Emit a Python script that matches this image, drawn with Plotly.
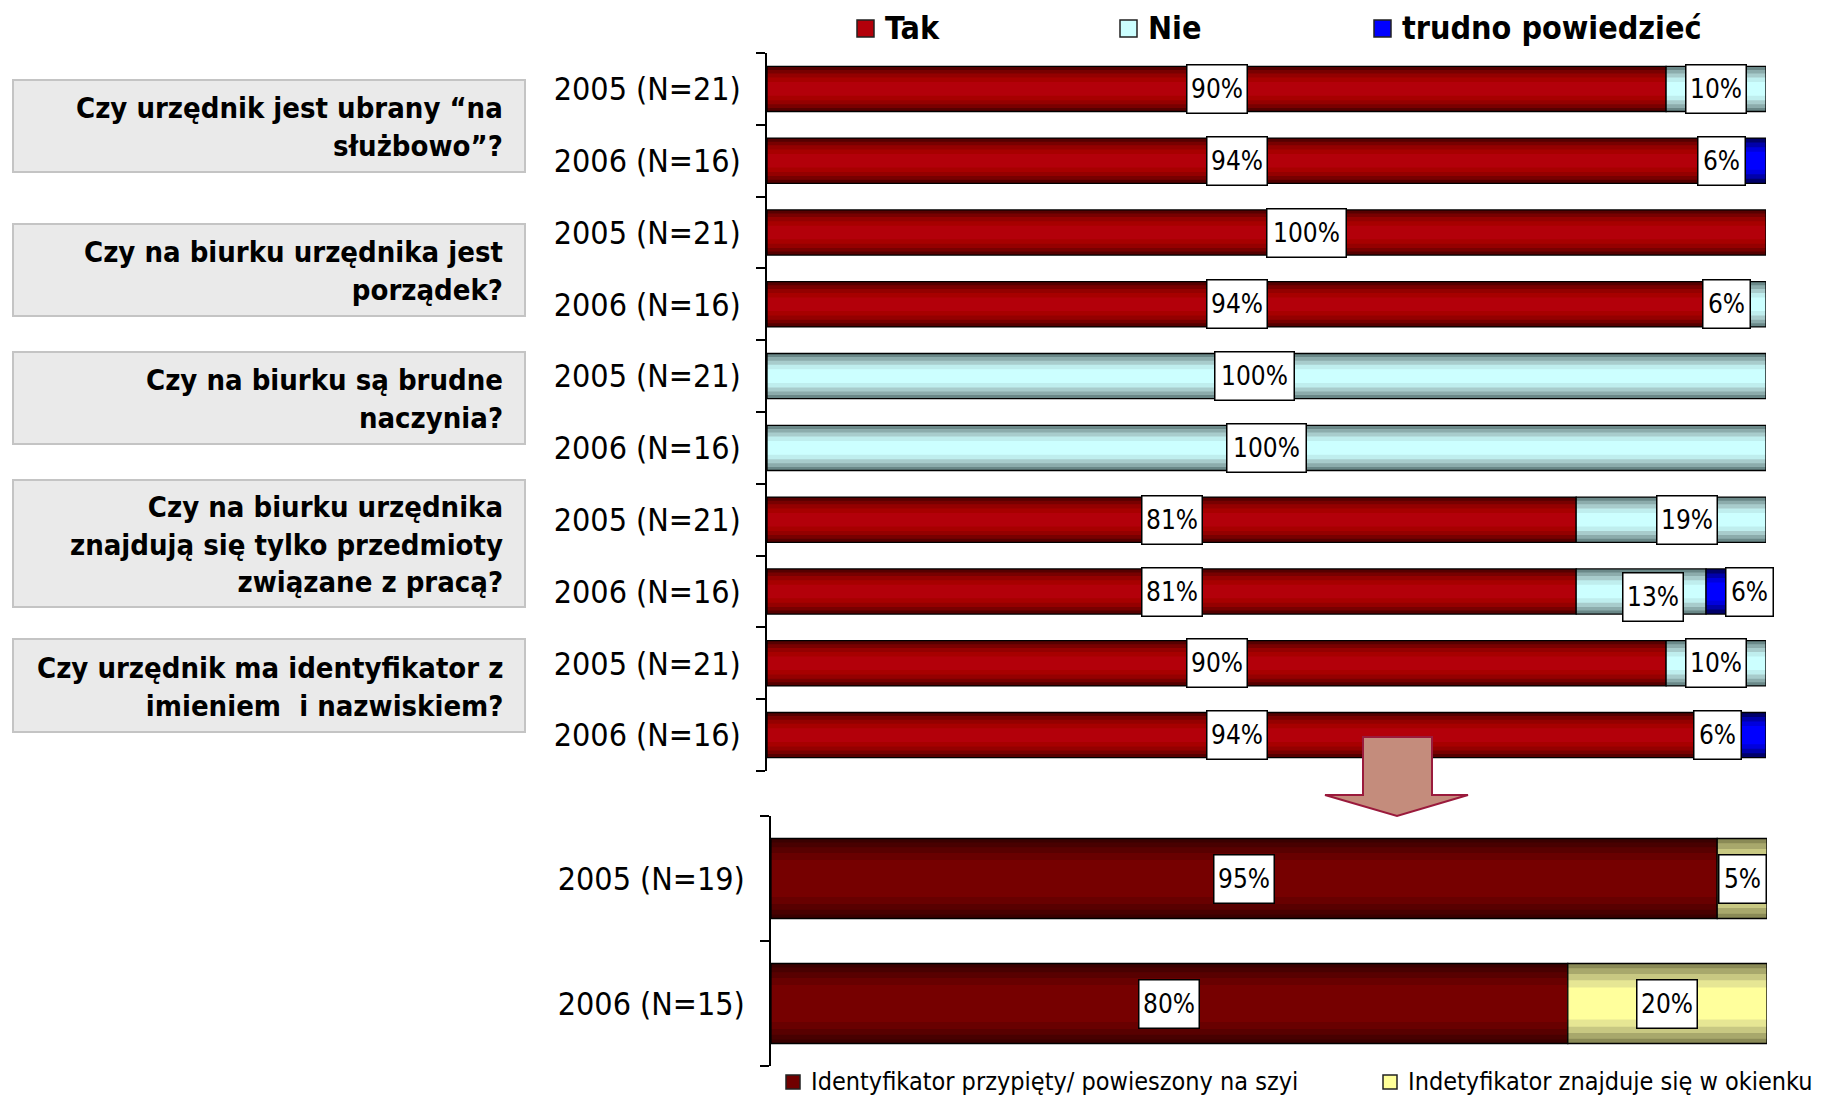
import plotly.graph_objects as go

W, H = 1823, 1095

# ---- data: appearance survey, 2005 vs 2006 ----
row_labels = ["2005 (N=21)", "2006 (N=16)", "2005 (N=21)", "2006 (N=16)", "2005 (N=21)",
              "2006 (N=16)", "2005 (N=21)", "2006 (N=16)", "2005 (N=21)", "2006 (N=16)"]
tak = [90, 94, 100, 94, 0, 0, 81, 81, 90, 94]
nie = [10, 0, 0, 6, 100, 100, 19, 13, 10, 0]
trudno = [0, 6, 0, 0, 0, 0, 0, 6, 0, 6]
series_names = ["Tak", "Nie", "trudno powiedzieć"]

questions = [
    "Czy urzędnik jest ubrany “na<br>służbowo”?",
    "Czy na biurku urzędnika jest<br>porządek?",
    "Czy na biurku są brudne<br>naczynia?",
    "Czy na biurku urzędnika<br>znajdują się tylko przedmioty<br>związane z pracą?",
    "Czy urzędnik ma identyfikator z<br>imieniem  i nazwiskiem?",
]

id_labels = ["2005 (N=19)", "2006 (N=15)"]
id_worn = [95, 80]
id_window = [5, 20]
id_names = ["Identyfikator przypięty/ powieszony na szyi", "Indetyfikator znajduje się w okienku"]

FONT = "DejaVu Sans Condensed, Liberation Sans Narrow, DejaVu Sans, sans-serif"

# gradient palettes: (thickness fraction, colour), outer to inner
PAL_TAK = [(1.0, "#560000"), (0.84, "#780000"), (0.68, "#940000"), (0.5, "#a70000"), (0.3, "#b3000a")]
PAL_NIE = [(1.0, "#6a8888"), (0.84, "#8cacac"), (0.68, "#a8cccc"), (0.5, "#bfeeee"), (0.3, "#ccffff")]
PAL_TRU = [(1.0, "#00006a"), (0.8, "#0000aa"), (0.6, "#0000dd"), (0.4, "#0000ff")]
PAL_WORN = [(1.0, "#3a0000"), (0.9, "#480000"), (0.78, "#580000"), (0.64, "#680000"), (0.46, "#760000")]
PAL_WIN = [(1.0, "#8a8a56"), (0.88, "#a8a86c"), (0.74, "#c8c882"), (0.58, "#e6e694"), (0.4, "#ffff9c")]


def px(x):
    return x / W


def py(y):
    return 1 - y / H


fig = go.Figure()


def add_layers(values, bases, ys, palette, thick, xa, ya):
    vals = [v if v else None for v in values]
    for frac, col in palette:
        fig.add_trace(go.Bar(orientation="h", x=vals, base=bases, y=ys, width=thick * frac,
                             marker=dict(color=col, line=dict(width=0)),
                             xaxis=xa, yaxis=ya, showlegend=False, hoverinfo="skip"))
    fig.add_trace(go.Bar(orientation="h", x=vals, base=bases, y=ys, width=thick,
                         marker=dict(color="rgba(0,0,0,0)", line=dict(color="black", width=1.3)),
                         xaxis=xa, yaxis=ya, showlegend=False, hoverinfo="skip"))


# ---- top chart ----
rows = list(range(len(row_labels)))
T_THICK = 0.63
base_tak = [0] * len(rows)
base_nie = [t for t in tak]
base_tru = [t + n for t, n in zip(tak, nie)]
add_layers(tak, base_tak, rows, PAL_TAK, T_THICK, "x", "y")
add_layers(nie, base_nie, rows, PAL_NIE, T_THICK, "x", "y")
add_layers(trudno, base_tru, rows, PAL_TRU, T_THICK, "x", "y")

# ---- bottom chart ----
id_rows = [0, 1]
B_THICK = 0.64
add_layers(id_worn, [0, 0], id_rows, PAL_WORN, B_THICK, "x2", "y2")
add_layers(id_window, id_worn, id_rows, PAL_WIN, B_THICK, "x2", "y2")

annotations = []
shapes = []

# value labels in white boxes (small nudges keep them clear of neighbours)
nudge = {(1, 2): -1.5, (2, 0): 4, (3, 1): -1, (4, 1): -1.2, (6, 1): 1.6,
         (7, 1): 1.2, (7, 2): 1.3, (9, 2): -1.9}
box_w = {2: 46, 3: 59, 4: 78}


def value_label(x, y, v, xa, ya, dy=0.0):
    t = f"{v}%"
    annotations.append(dict(x=x, y=y + dy, xref=xa, yref=ya, text=t, showarrow=False,
                            font=dict(family=FONT, size=26, color="black"),
                            bgcolor="white", bordercolor="black", borderwidth=1.5,
                            borderpad=0, width=box_w[len(t)], height=47))


for r in rows:
    for k, (vals, bases) in enumerate([(tak, base_tak), (nie, base_nie), (trudno, base_tru)]):
        v = vals[r]
        if v:
            dy = 0.07 if (r, k) == (7, 1) else 0.0
            value_label(bases[r] + v / 2 + nudge.get((r, k), 0), r, v, "x", "y", dy)

for r in id_rows:
    value_label(id_worn[r] / 2, r, id_worn[r], "x2", "y2")
    value_label(id_worn[r] + id_window[r] / 2, r, id_window[r], "x2", "y2")

# question boxes on the left
q_boxes = [(80, 172), (224, 316), (352, 444), (480, 607), (639, 732)]
for (y0, y1), q in zip(q_boxes, questions):
    shapes.append(dict(type="rect", xref="paper", yref="paper", x0=px(13), x1=px(525),
                       y0=py(y1), y1=py(y0), fillcolor="#eaeaea",
                       line=dict(color="#c4c4c4", width=2), layer="below"))
    annotations.append(dict(x=px(505), y=py((y0 + y1) / 2 + 1), xref="paper", yref="paper",
                            xanchor="right", yanchor="middle", align="right", text=q,
                            showarrow=False, font=dict(family=FONT, size=29, color="black",
                                                       weight="bold")))

# top legend
tops = [(857, PAL_TAK[-1][1]), (1120, "#ccffff"), (1374, "#0000ff")]
for (x0, col), name in zip(tops, series_names):
    shapes.append(dict(type="rect", xref="paper", yref="paper", x0=px(x0), x1=px(x0 + 17),
                       y0=py(37), y1=py(20), fillcolor=col, line=dict(color="#222", width=1.5)))
    annotations.append(dict(x=px(x0 + 26), y=py(28), xref="paper", yref="paper",
                            xanchor="left", yanchor="middle", text=name, showarrow=False,
                            font=dict(family=FONT, size=32, color="black", weight="bold")))

# bottom legend
bots = [(786, "#700000"), (1383, "#ffff99")]
for (x0, col), name in zip(bots, id_names):
    shapes.append(dict(type="rect", xref="paper", yref="paper", x0=px(x0), x1=px(x0 + 14),
                       y0=py(1089), y1=py(1075), fillcolor=col, line=dict(color="#222", width=1.5)))
    annotations.append(dict(x=px(x0 + 23), y=py(1081), xref="paper", yref="paper",
                            xanchor="left", yanchor="middle", text=name, showarrow=False,
                            font=dict(family=FONT, size=25, color="black")))

# arrow linking the last question to the identifier breakdown
arrow_pts = [(1363, 737), (1432, 737), (1432, 795), (1468, 795), (1397, 816),
             (1325, 795), (1363, 795)]
path = "M " + " L ".join(f"{px(a)},{py(b)}" for a, b in arrow_pts) + " Z"
shapes.append(dict(type="path", xref="paper", yref="paper", path=path,
                   fillcolor="#c48c7c", line=dict(color="#9a1a3c", width=2)))

fig.update_layout(
    width=W, height=H, autosize=False,
    margin=dict(l=0, r=0, t=0, b=0),
    paper_bgcolor="white", plot_bgcolor="white",
    barmode="overlay", showlegend=False,
    annotations=annotations, shapes=shapes,
    xaxis=dict(domain=[px(767), px(1766)], range=[0, 100], visible=False, fixedrange=True),
    yaxis=dict(domain=[py(771), py(53)], range=[9.5, -0.5], tickvals=rows, ticktext=row_labels,
               ticks="", showgrid=False, zeroline=False, showline=True, linecolor="black",
               linewidth=1.5, ticklabelstandoff=18,
               tickfont=dict(family=FONT, size=32, color="black"),
               minor=dict(tickvals=[r - 0.5 for r in rows] + [9.5], ticks="outside",
                          ticklen=9, tickcolor="black", tickwidth=1.5, showgrid=False)),
    xaxis2=dict(domain=[px(771), px(1767)], range=[0, 100], visible=False, anchor="y2"),
    yaxis2=dict(domain=[py(1066), py(816)], range=[1.5, -0.5], tickvals=id_rows, ticktext=id_labels,
                ticks="", showgrid=False, zeroline=False, showline=True, linecolor="black",
                linewidth=1.5, ticklabelstandoff=18, anchor="x2",
                tickfont=dict(family=FONT, size=32, color="black"),
                minor=dict(tickvals=[-0.5, 0.5, 1.5], ticks="outside", ticklen=9,
                           tickcolor="black", tickwidth=1.5, showgrid=False)),
)

fig.write_html("out.html")
